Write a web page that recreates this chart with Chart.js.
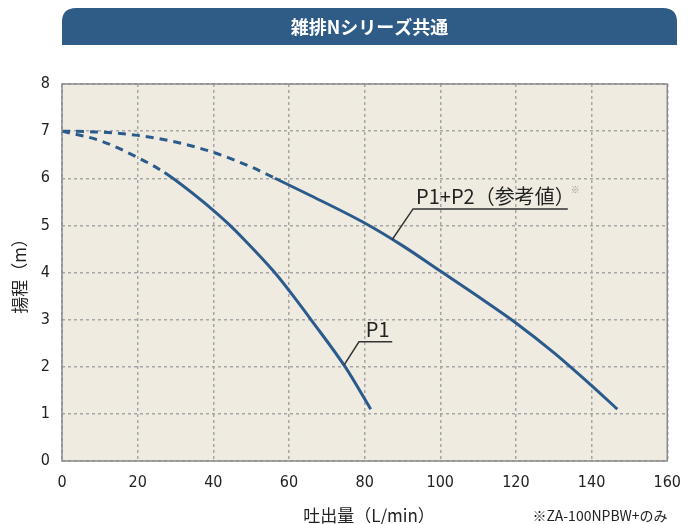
<!DOCTYPE html>
<html>
<head>
<meta charset="utf-8">
<script src="https://cdn.jsdelivr.net/npm/chart.js@4"></script>
<style>
  html, body { margin: 0; padding: 0; background: #ffffff; }
  #wrap { width: 693px; height: 524px; position: relative; }
</style>
</head>
<body>
<div id="wrap"><canvas id="pumpChart" width="693" height="524"></canvas></div>
<script>
// Curve values (flow L/min, head m)
// the part left of *DashEnd is drawn dashed
const p1X = [0, 10, 20, 27.1, 40, 44, 48, 56, 60, 66, 75, 81.6];
const p1Y = [7.0, 6.8, 6.44, 6.12, 5.32, 5.03, 4.71, 4.02, 3.62, 2.98, 1.98, 1.1];
const p1DashEnd = 27.1;

const p12X = [0, 10, 20, 30, 40, 50, 56.3, 65, 80, 90, 100, 110, 120, 130, 140, 146.8];
const p12Y = [7.0, 6.98, 6.91, 6.77, 6.55, 6.24, 6.0, 5.66, 5.05, 4.57, 4.03, 3.49, 2.93, 2.3, 1.6, 1.1];
const p12DashEnd = 56.3;

const xTicks = [0, 20, 40, 60, 80, 100, 120, 140, 160];
const yTicks = [0, 1, 2, 3, 4, 5, 6, 7, 8];

const titleText = '雑排Nシリーズ共通';
const xTitle = '吐出量（L/min）';
const yTitle = '揚程（m）';
const noteText = '※ZA-100NPBW+のみ';
const p12Label = 'P1+P2（参考値）';
const p1Label = 'P1';

const lineColor = '#2b5b8c';
const tickFont = '"Liberation Sans Narrow", "DejaVu Sans Condensed", sans-serif';
const jpFont = '"Noto Sans CJK JP", sans-serif';

function toPoints(xs, ys) {
    return xs.map((x, i) => ({ x: x, y: ys[i] }));
}

function curve(label, xs, ys, dashEnd) {
    return {
        label: label,
        data: toPoints(xs, ys),
        borderColor: lineColor,
        borderWidth: 3,
        pointRadius: 0,
        cubicInterpolationMode: 'monotone',
        fill: false,
        segment: {
            borderDash: c => (c.p1.parsed.x <= dashEnd ? [8, 6] : undefined)
        }
    };
}

// Background, frame, banner, titles and leader labels
const decorPlugin = {
    id: 'decor',
    beforeDraw(chart) {
        const { ctx, chartArea: a } = chart;
        ctx.save();
        ctx.fillStyle = '#efebe1';
        ctx.fillRect(a.left, a.top, a.right - a.left, a.bottom - a.top);
        ctx.restore();
    },
    afterDatasetsDraw(chart) {
        const { ctx, chartArea: a, scales } = chart;
        const sx = scales.x, sy = scales.y;
        ctx.save();

        // frame
        ctx.strokeStyle = '#8a8a8a';
        ctx.lineWidth = 1.5;
        ctx.strokeRect(a.left, a.top, a.right - a.left, a.bottom - a.top);

        // banner
        const bx = a.left, bw = 677 - a.left, by = 8, bh = 37, r = 14;
        ctx.fillStyle = '#2f5b87';
        ctx.beginPath();
        ctx.moveTo(bx, by + bh);
        ctx.lineTo(bx, by + r);
        ctx.quadraticCurveTo(bx, by, bx + r, by);
        ctx.lineTo(bx + bw - r, by);
        ctx.quadraticCurveTo(bx + bw, by, bx + bw, by + r);
        ctx.lineTo(bx + bw, by + bh);
        ctx.closePath();
        ctx.fill();
        ctx.fillStyle = '#ffffff';
        ctx.font = 'bold 18px ' + jpFont;
        ctx.textAlign = 'center';
        ctx.textBaseline = 'middle';
        ctx.fillText(titleText, bx + bw / 2, by + bh / 2 + 1);

        // axis titles
        ctx.fillStyle = '#222222';
        ctx.font = '17px ' + jpFont;
        ctx.fillText(xTitle, 369, 516);
        ctx.font = '14px ' + jpFont;
        ctx.fillText(noteText, 600, 516);
        ctx.save();
        ctx.translate(20, 272);
        ctx.rotate(-Math.PI / 2);
        ctx.font = '17px ' + jpFont;
        ctx.fillText(yTitle, 0, 0);
        ctx.restore();

        // leader lines
        ctx.strokeStyle = '#333333';
        ctx.lineWidth = 1.5;
        ctx.beginPath();
        ctx.moveTo(sx.getPixelForValue(87.3), sy.getPixelForValue(4.7));
        ctx.lineTo(sx.getPixelForValue(92.8), sy.getPixelForValue(5.35));
        ctx.lineTo(sx.getPixelForValue(133.7), sy.getPixelForValue(5.35));
        ctx.moveTo(sx.getPixelForValue(74.6), sy.getPixelForValue(2.04));
        ctx.lineTo(sx.getPixelForValue(78.5), sy.getPixelForValue(2.53));
        ctx.lineTo(sx.getPixelForValue(87.3), sy.getPixelForValue(2.53));
        ctx.stroke();

        ctx.textAlign = 'left';
        ctx.textBaseline = 'alphabetic';
        ctx.fillStyle = '#222222';
        ctx.font = '20px ' + jpFont;
        const lx = sx.getPixelForValue(93.6);
        const ly = sy.getPixelForValue(5.35) - 5;
        ctx.fillText(p12Label, lx, ly);
        const w = ctx.measureText(p12Label).width;
        ctx.fillStyle = '#999999';
        ctx.font = '9px ' + jpFont;
        ctx.fillText('※', lx + w - 4, ly - 11);
        ctx.fillStyle = '#222222';
        ctx.font = '20px ' + jpFont;
        ctx.fillText(p1Label, sx.getPixelForValue(80.3), sy.getPixelForValue(2.53) - 5);

        ctx.restore();
    }
};

document.addEventListener('DOMContentLoaded', function () {
    const ctx = document.getElementById('pumpChart');
    new Chart(ctx, {
        type: 'line',
        data: {
            datasets: [
                curve('P1', p1X, p1Y, p1DashEnd),
                curve('P1+P2', p12X, p12Y, p12DashEnd)
            ]
        },
        options: {
            responsive: false,
            animation: false,
            layout: { padding: { top: 84, right: 17, left: 0, bottom: 0 } },
            plugins: {
                legend: { display: false },
                tooltip: { enabled: false }
            },
            scales: {
                x: {
                    type: 'linear',
                    min: 0,
                    max: 160,
                    afterBuildTicks(scale) { scale.ticks = xTicks.map(v => ({ value: v })); },
                    afterFit(scale) { scale.height = 63; },
                    grid: { color: '#a6a6a6', lineWidth: 1.5, drawTicks: false },
                    border: { display: false, dash: [3, 3] },
                    ticks: {
                        color: '#222222',
                        padding: 12,
                        maxRotation: 0,
                        font: { family: tickFont, size: 16 }
                    }
                },
                y: {
                    type: 'linear',
                    min: 0,
                    max: 8,
                    afterBuildTicks(scale) { scale.ticks = yTicks.map(v => ({ value: v })); },
                    afterFit(scale) { scale.width = 62; },
                    grid: { color: '#a6a6a6', lineWidth: 1.5, drawTicks: false },
                    border: { display: false, dash: [3, 3] },
                    ticks: {
                        color: '#222222',
                        padding: 12,
                        font: { family: tickFont, size: 16 }
                    }
                }
            }
        },
        plugins: [decorPlugin]
    });
});
</script>
</body>
</html>
